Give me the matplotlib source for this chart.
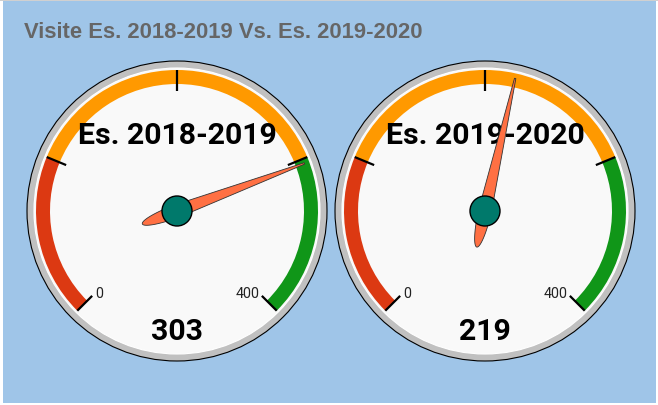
import numpy as np
import matplotlib
matplotlib.use("Agg")
import matplotlib.pyplot as plt
from matplotlib.patches import Circle, Wedge, Polygon, Rectangle

# data
chart_title = "Visite Es. 2018-2019 Vs. Es. 2019-2020"
gauge_titles = ["Es. 2018-2019", "Es. 2019-2020"]
gauge_values = [303, 219]
axis_min, axis_max = 0, 400
tick_values = [0, 100, 200, 300, 400]
label_values = [0, 400]
band_from = [0, 100, 300]
band_to = [100, 300, 400]
band_colors = ["#dc3912", "#ff9900", "#109618"]

W, H = 658, 406
START, END = -135, 135
centers = [(177, 212), (485, 212)]
R_OUT = 150


def value_angle(v):
    return START + (END - START) * (v - axis_min) / (axis_max - axis_min)


def polar(cx, cy, r, theta):
    t = np.radians(theta)
    return cx + r * np.sin(t), cy - r * np.cos(t)


def draw_gauge(ax, cx, cy, title, value):
    ax.add_patch(Circle((cx, cy), R_OUT, facecolor="#c0c0c0", edgecolor="black",
                        linewidth=0.8, zorder=2))
    ax.add_patch(Circle((cx, cy), R_OUT - 7, facecolor="#f9f9f9", edgecolor="white",
                        linewidth=0.8, zorder=3))
    for v1, v2, col in zip(band_from, band_to, band_colors):
        ax.add_patch(Wedge((cx, cy), 141, value_angle(v1) - 90, value_angle(v2) - 90,
                           width=14, facecolor=col, edgecolor="none", zorder=4))
    for v in tick_values:
        th = value_angle(v)
        x1, y1 = polar(cx, cy, 141, th)
        x2, y2 = polar(cx, cy, 120, th)
        ax.plot([x1, x2], [y1, y2], color="black", linewidth=1.6, zorder=5,
                solid_capstyle="butt")
    for v in label_values:
        th = value_angle(v)
        x, y = polar(cx, cy, 120, th)
        if th < 0:
            ax.text(x + 3, y - 3, str(v), ha="left", va="center", fontsize=10.3,
                    family="Roboto", color="#222222", zorder=5)
        else:
            ax.text(x - 2, y - 3, str(v), ha="right", va="center", fontsize=10.3,
                    family="Roboto", color="#222222", zorder=5)
    ax.text(cx, cy - 76, title, ha="center", va="center", fontsize=21.8,
            family="Roboto", fontweight="bold", color="black", zorder=6)
    ax.text(cx, cy + 120, str(value), ha="center", va="center", fontsize=21.8,
            family="Roboto", fontweight="bold", color="black", zorder=6)

    # needle
    th = value_angle(value)
    s_front = np.linspace(0, 136, 30)
    w_front = 6.5 - (6.5 - 0.7) * s_front / 136
    phi = np.linspace(0, np.pi / 2, 20)
    s_rear = -37 * np.sin(phi)
    w_rear = 6.5 * np.cos(phi)
    s = np.concatenate([s_rear[::-1], s_front])
    w = np.concatenate([w_rear[::-1], w_front])
    s_all = np.concatenate([s, s[::-1]])
    w_all = np.concatenate([w, -w[::-1]])
    t = np.radians(th)
    ux, uy = np.sin(t), -np.cos(t)
    px, py = np.cos(t), np.sin(t)
    xs = cx + s_all * ux + w_all * px
    ys = cy + s_all * uy + w_all * py
    ax.add_patch(Polygon(np.column_stack([xs, ys]), closed=True, facecolor="#ff7043",
                         edgecolor="#333333", linewidth=0.6, zorder=7))
    ax.add_patch(Circle((cx, cy), 15, facecolor="#00796b", edgecolor="black",
                        linewidth=1.0, zorder=8))


fig = plt.figure(figsize=(W / 100, H / 100), dpi=100)
fig.patch.set_facecolor("white")
ax = fig.add_axes([0, 0, 1, 1])
ax.set_xlim(0, W)
ax.set_ylim(H, 0)
ax.set_aspect("equal")
ax.axis("off")

ax.add_patch(Rectangle((3, 2), W - 5, H - 4, facecolor="#9fc5e8", edgecolor="none", zorder=0))
ax.add_patch(Rectangle((0, 0), W, 2, facecolor="#d0d0d0", edgecolor="none", zorder=0))

ax.text(24, 33, chart_title, ha="left", va="center", fontsize=15.8,
        family="Liberation Sans", fontweight="bold", color="#666666", zorder=1)

for (cx, cy), title, value in zip(centers, gauge_titles, gauge_values):
    draw_gauge(ax, cx, cy, title, value)

fig.savefig("out.png", dpi=100)
